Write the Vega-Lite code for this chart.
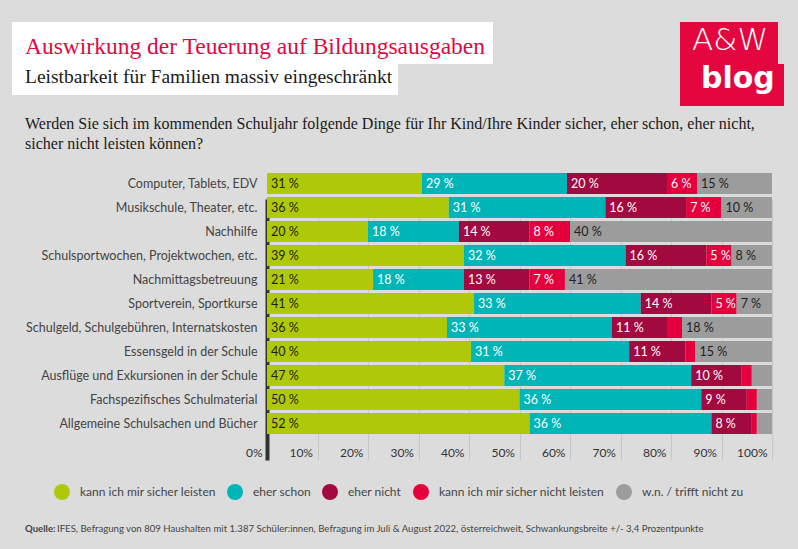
{
  "$schema": "https://vega.github.io/schema/vega-lite/v6.json",
  "background": "#dcdcdc",
  "padding": {"left": 12, "top": 22, "right": 0, "bottom": 0},
  "config": {
    "view": {"stroke": null},
    "title": {"anchor": "start", "frame": "group", "baseline": "alphabetic"}
  },
  "columns": 2,
  "align": "each",
  "bounds": "flush",
  "spacing": {"row": 0, "column": 187},
  "resolve": {"scale": {"color": "independent"}, "legend": {"color": "independent"}},
  "datasets": {
    "survey": [
      {"item": "Computer, Tablets, EDV", "o": 1, "cat": "kann ich mir sicher leisten", "k": 1, "v": 31},
      {"item": "Computer, Tablets, EDV", "o": 1, "cat": "eher schon", "k": 2, "v": 29},
      {"item": "Computer, Tablets, EDV", "o": 1, "cat": "eher nicht", "k": 3, "v": 20},
      {"item": "Computer, Tablets, EDV", "o": 1, "cat": "kann ich mir sicher nicht leisten", "k": 4, "v": 6},
      {"item": "Computer, Tablets, EDV", "o": 1, "cat": "w.n. / trifft nicht zu", "k": 5, "v": 15},
      {"item": "Musikschule, Theater, etc.", "o": 2, "cat": "kann ich mir sicher leisten", "k": 1, "v": 36},
      {"item": "Musikschule, Theater, etc.", "o": 2, "cat": "eher schon", "k": 2, "v": 31},
      {"item": "Musikschule, Theater, etc.", "o": 2, "cat": "eher nicht", "k": 3, "v": 16},
      {"item": "Musikschule, Theater, etc.", "o": 2, "cat": "kann ich mir sicher nicht leisten", "k": 4, "v": 7},
      {"item": "Musikschule, Theater, etc.", "o": 2, "cat": "w.n. / trifft nicht zu", "k": 5, "v": 10},
      {"item": "Nachhilfe", "o": 3, "cat": "kann ich mir sicher leisten", "k": 1, "v": 20},
      {"item": "Nachhilfe", "o": 3, "cat": "eher schon", "k": 2, "v": 18},
      {"item": "Nachhilfe", "o": 3, "cat": "eher nicht", "k": 3, "v": 14},
      {"item": "Nachhilfe", "o": 3, "cat": "kann ich mir sicher nicht leisten", "k": 4, "v": 8},
      {"item": "Nachhilfe", "o": 3, "cat": "w.n. / trifft nicht zu", "k": 5, "v": 40},
      {"item": "Schulsportwochen, Projektwochen, etc.", "o": 4, "cat": "kann ich mir sicher leisten", "k": 1, "v": 39},
      {"item": "Schulsportwochen, Projektwochen, etc.", "o": 4, "cat": "eher schon", "k": 2, "v": 32},
      {"item": "Schulsportwochen, Projektwochen, etc.", "o": 4, "cat": "eher nicht", "k": 3, "v": 16},
      {"item": "Schulsportwochen, Projektwochen, etc.", "o": 4, "cat": "kann ich mir sicher nicht leisten", "k": 4, "v": 5},
      {"item": "Schulsportwochen, Projektwochen, etc.", "o": 4, "cat": "w.n. / trifft nicht zu", "k": 5, "v": 8},
      {"item": "Nachmittagsbetreuung", "o": 5, "cat": "kann ich mir sicher leisten", "k": 1, "v": 21},
      {"item": "Nachmittagsbetreuung", "o": 5, "cat": "eher schon", "k": 2, "v": 18},
      {"item": "Nachmittagsbetreuung", "o": 5, "cat": "eher nicht", "k": 3, "v": 13},
      {"item": "Nachmittagsbetreuung", "o": 5, "cat": "kann ich mir sicher nicht leisten", "k": 4, "v": 7},
      {"item": "Nachmittagsbetreuung", "o": 5, "cat": "w.n. / trifft nicht zu", "k": 5, "v": 41},
      {"item": "Sportverein, Sportkurse", "o": 6, "cat": "kann ich mir sicher leisten", "k": 1, "v": 41},
      {"item": "Sportverein, Sportkurse", "o": 6, "cat": "eher schon", "k": 2, "v": 33},
      {"item": "Sportverein, Sportkurse", "o": 6, "cat": "eher nicht", "k": 3, "v": 14},
      {"item": "Sportverein, Sportkurse", "o": 6, "cat": "kann ich mir sicher nicht leisten", "k": 4, "v": 5},
      {"item": "Sportverein, Sportkurse", "o": 6, "cat": "w.n. / trifft nicht zu", "k": 5, "v": 7},
      {"item": "Schulgeld, Schulgebühren, Internatskosten", "o": 7, "cat": "kann ich mir sicher leisten", "k": 1, "v": 36},
      {"item": "Schulgeld, Schulgebühren, Internatskosten", "o": 7, "cat": "eher schon", "k": 2, "v": 33},
      {"item": "Schulgeld, Schulgebühren, Internatskosten", "o": 7, "cat": "eher nicht", "k": 3, "v": 11},
      {"item": "Schulgeld, Schulgebühren, Internatskosten", "o": 7, "cat": "kann ich mir sicher nicht leisten", "k": 4, "v": 3},
      {"item": "Schulgeld, Schulgebühren, Internatskosten", "o": 7, "cat": "w.n. / trifft nicht zu", "k": 5, "v": 18},
      {"item": "Essensgeld in der Schule", "o": 8, "cat": "kann ich mir sicher leisten", "k": 1, "v": 40},
      {"item": "Essensgeld in der Schule", "o": 8, "cat": "eher schon", "k": 2, "v": 31},
      {"item": "Essensgeld in der Schule", "o": 8, "cat": "eher nicht", "k": 3, "v": 11},
      {"item": "Essensgeld in der Schule", "o": 8, "cat": "kann ich mir sicher nicht leisten", "k": 4, "v": 2},
      {"item": "Essensgeld in der Schule", "o": 8, "cat": "w.n. / trifft nicht zu", "k": 5, "v": 15},
      {"item": "Ausflüge und Exkursionen in der Schule", "o": 9, "cat": "kann ich mir sicher leisten", "k": 1, "v": 47},
      {"item": "Ausflüge und Exkursionen in der Schule", "o": 9, "cat": "eher schon", "k": 2, "v": 37},
      {"item": "Ausflüge und Exkursionen in der Schule", "o": 9, "cat": "eher nicht", "k": 3, "v": 10},
      {"item": "Ausflüge und Exkursionen in der Schule", "o": 9, "cat": "kann ich mir sicher nicht leisten", "k": 4, "v": 2},
      {"item": "Ausflüge und Exkursionen in der Schule", "o": 9, "cat": "w.n. / trifft nicht zu", "k": 5, "v": 4},
      {"item": "Fachspezifisches Schulmaterial", "o": 10, "cat": "kann ich mir sicher leisten", "k": 1, "v": 50},
      {"item": "Fachspezifisches Schulmaterial", "o": 10, "cat": "eher schon", "k": 2, "v": 36},
      {"item": "Fachspezifisches Schulmaterial", "o": 10, "cat": "eher nicht", "k": 3, "v": 9},
      {"item": "Fachspezifisches Schulmaterial", "o": 10, "cat": "kann ich mir sicher nicht leisten", "k": 4, "v": 2},
      {"item": "Fachspezifisches Schulmaterial", "o": 10, "cat": "w.n. / trifft nicht zu", "k": 5, "v": 3},
      {"item": "Allgemeine Schulsachen und Bücher", "o": 11, "cat": "kann ich mir sicher leisten", "k": 1, "v": 52},
      {"item": "Allgemeine Schulsachen und Bücher", "o": 11, "cat": "eher schon", "k": 2, "v": 36},
      {"item": "Allgemeine Schulsachen und Bücher", "o": 11, "cat": "eher nicht", "k": 3, "v": 8},
      {"item": "Allgemeine Schulsachen und Bücher", "o": 11, "cat": "kann ich mir sicher nicht leisten", "k": 4, "v": 1},
      {"item": "Allgemeine Schulsachen und Bücher", "o": 11, "cat": "w.n. / trifft nicht zu", "k": 5, "v": 3}
    ]
  },
  "concat": [
    {
      "width": 481, "height": 42,
      "view": {"fill": "#ffffff", "stroke": null},
      "title": {"text": "Auswirkung der Teuerung auf Bildungsausgaben", "font": "Liberation Serif", "fontSize": 23.5, "fontWeight": "normal", "color": "#e3063f", "dx": 13, "offset": -36},
      "data": {"values": [{}]},
      "mark": {"type": "text"},
      "encoding": {"text": {"value": ""}}
    },
    {
      "width": 98, "height": 42,
      "view": {"fill": "#e3063f", "stroke": null},
      "title": {"text": "A&W", "font": "DejaVu Sans", "fontSize": 31, "fontWeight": 300, "color": "#ffffff", "dx": 12, "offset": -35},
      "data": {"values": [{}]},
      "mark": {"type": "text"},
      "encoding": {"text": {"value": ""}}
    },
    {
      "width": 386, "height": 31,
      "view": {"fill": "#ffffff", "stroke": null},
      "title": {"text": "Leistbarkeit für Familien massiv eingeschränkt", "font": "Liberation Serif", "fontSize": 19.5, "fontWeight": "normal", "color": "#1a1a1a", "dx": 13, "offset": -23},
      "data": {"values": [{}]},
      "mark": {"type": "text"},
      "encoding": {"text": {"value": ""}}
    },
    {
      "width": 104, "height": 42,
      "view": {"fill": "#e3063f", "stroke": null},
      "title": {"text": "blog", "font": "DejaVu Sans", "fontSize": 30, "fontWeight": "bold", "color": "#ffffff", "dx": 21, "offset": -30},
      "data": {"values": [{}]},
      "mark": {"type": "text"},
      "encoding": {"text": {"value": ""}}
    },
    {
      "width": 481, "height": 65,
      "title": {"text": ["Werden Sie sich im kommenden Schuljahr folgende Dinge für Ihr Kind/Ihre Kinder sicher, eher schon, eher nicht,", "sicher nicht leisten können?"], "font": "Liberation Serif", "fontSize": 16, "fontWeight": "normal", "color": "#1a1a1a", "lineHeight": 20, "dx": 13, "offset": -46},
      "data": {"values": [{}]},
      "mark": {"type": "text"},
      "encoding": {"text": {"value": ""}}
    },
    {
      "width": 118, "height": 1,
      "data": {"values": [{}]},
      "mark": {"type": "text"},
      "encoding": {"text": {"value": ""}}
    },
    {
      "width": 481, "height": 291,
      "data": {"name": "survey"},
      "transform": [
        {"stack": "v", "groupby": ["item"], "sort": [{"field": "k", "order": "ascending"}], "as": ["x0", "x1"], "offset": "normalize"}
      ],
      "encoding": {
        "y": {
          "field": "item", "type": "nominal",
          "sort": {"field": "o", "op": "min", "order": "ascending"},
          "scale": {"range": [2, 263], "paddingInner": 0.125, "paddingOuter": 0},
          "axis": {"orient": "left", "offset": -255, "domain": false, "ticks": false, "tickSize": 0, "labelPadding": 10, "labelFont": "Lato", "labelFontSize": 12.5, "labelColor": "#444444", "labelLimit": 320, "title": null}
        }
      },
      "layer": [
        {
          "mark": {"type": "bar", "strokeWidth": 0},
          "encoding": {
            "x": {
              "field": "x0", "type": "quantitative",
              "scale": {"domain": [0, 1], "range": [255, 760], "nice": false, "zero": true},
              "axis": {
                "orient": "bottom", "values": [0, 0.1, 0.2, 0.3, 0.4, 0.5, 0.6, 0.7, 0.8, 0.9, 1], "format": ".0%",
                "domain": false, "ticks": false, "tickSize": 0, "grid": true,
                "gridColor": {"condition": {"test": "datum.value === 0", "value": "#333333"}, "value": "#c6c6c6"},
                "gridWidth": {"condition": {"test": "datum.value === 0", "value": 4}, "value": 1},
                "gridOpacity": 1,
                "labelAlign": "right", "labelBaseline": "alphabetic", "labelPadding": -5.5, "labelOffset": -5,
                "labelFlush": false, "labelOverlap": false,
                "labelFont": "Lato", "labelFontSize": 12, "labelColor": "#333333", "title": null
              }
            },
            "x2": {"field": "x1"},
            "color": {
              "field": "cat", "type": "nominal",
              "scale": {
                "domain": ["kann ich mir sicher leisten", "eher schon", "eher nicht", "kann ich mir sicher nicht leisten", "w.n. / trifft nicht zu"],
                "range": ["#afc90a", "#00b5b7", "#a2093f", "#e5003d", "#9c9c9c"]
              },
              "legend": {
                "orient": "none", "legendX": 42, "legendY": 313, "direction": "horizontal", "columns": 5,
                "title": null, "symbolType": "circle", "symbolSize": 256, "symbolStrokeWidth": 0, "symbolOpacity": 1,
                "labelFont": "Lato", "labelFontSize": 12, "labelColor": "#444444", "labelOffset": 10,
                "columnPadding": 11, "labelLimit": 300, "padding": 0
              }
            }
          }
        },
        {
          "transform": [{"filter": "datum.v >= 5"}],
          "mark": {"type": "text", "align": "left", "baseline": "middle", "dx": 4, "font": "Lato", "fontSize": 12.5, "text": {"expr": "datum.v + ' %'"}},
          "encoding": {
            "x": {"field": "x0", "type": "quantitative"},
            "color": {"condition": {"test": "datum.k === 1 || datum.k === 5", "value": "#1e1e1e"}, "value": "#ffffff"}
          }
        }
      ]
    },
    {
      "width": 1, "height": 1,
      "data": {"values": [{}]},
      "mark": {"type": "text"},
      "encoding": {"text": {"value": ""}}
    },
    {
      "width": 481, "height": 87,
      "title": {"text": "Quelle:", "font": "Lato", "fontSize": 9.6, "fontWeight": "bold", "color": "#444444", "dx": 13, "offset": -72},
      "data": {"values": [{}]},
      "mark": {"type": "text"},
      "encoding": {"text": {"value": ""}}
    },
    {
      "width": 1, "height": 87,
      "title": {"text": "IFES, Befragung von 809 Haushalten mit 1.387 Schüler:innen, Befragung im Juli & August 2022, österreichweit, Schwankungsbreite +/- 3,4 Prozentpunkte", "font": "Lato", "fontSize": 9.6, "fontWeight": "normal", "color": "#444444", "dx": -623, "offset": -72},
      "data": {"values": [{}]},
      "mark": {"type": "text"},
      "encoding": {"text": {"value": ""}}
    }
  ]
}
